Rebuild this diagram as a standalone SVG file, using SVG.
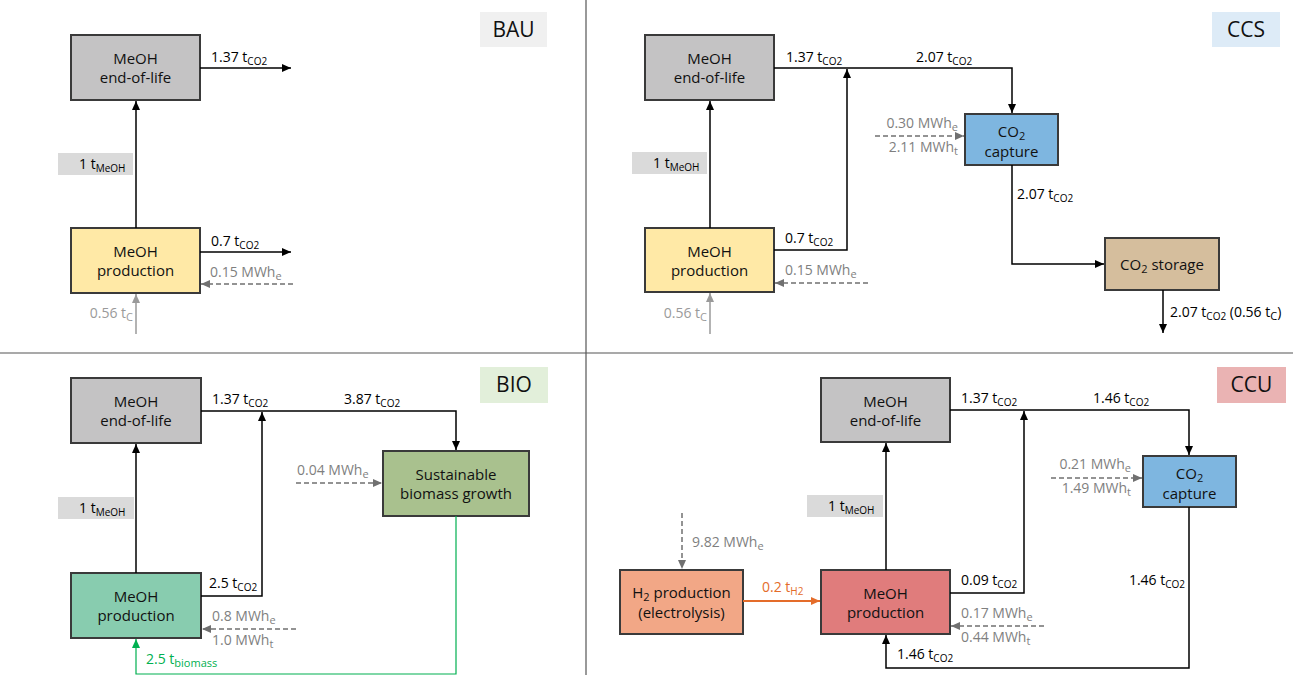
<svg xmlns="http://www.w3.org/2000/svg" width="1293" height="675" viewBox="0 0 1293 675">
<defs>
<marker id="ak" viewBox="0 0 9 8" markerWidth="9" markerHeight="8" refX="9" refY="4" orient="auto" markerUnits="userSpaceOnUse"><path d="M0,0 L9,4 L0,8 z" fill="#000"/></marker>
<marker id="ag" viewBox="0 0 9 8" markerWidth="9" markerHeight="8" refX="9" refY="4" orient="auto" markerUnits="userSpaceOnUse"><path d="M0,0 L9,4 L0,8 z" fill="#707070"/></marker>
<marker id="al" viewBox="0 0 9 8" markerWidth="9" markerHeight="8" refX="9" refY="4" orient="auto" markerUnits="userSpaceOnUse"><path d="M0,0 L9,4 L0,8 z" fill="#9a9a9a"/></marker>
<marker id="agr" viewBox="0 0 9 8" markerWidth="9" markerHeight="8" refX="9" refY="4" orient="auto" markerUnits="userSpaceOnUse"><path d="M0,0 L9,4 L0,8 z" fill="#00B050"/></marker>
<marker id="aor" viewBox="0 0 9 8" markerWidth="9" markerHeight="8" refX="9" refY="4" orient="auto" markerUnits="userSpaceOnUse"><path d="M0,0 L9,4 L0,8 z" fill="#E46C2A"/></marker>
</defs>
<style>
text{font-family:"Open Sans","Noto Sans",sans-serif;}
.box{stroke:#3a3a3a;stroke-width:2;}
.bt{font-size:15px;fill:#111;text-anchor:middle;}
.lb{font-size:14px;fill:#000;}
.gl{font-size:14px;fill:#7f7f7f;}
.ll{font-size:14px;fill:#9a9a9a;}
.grn{font-size:14px;fill:#00B050;}
.org{font-size:14px;fill:#E46C2A;}
.s{font-size:10px;}
.bs{font-size:11px;}
.ttl{font-size:21px;fill:#111;text-anchor:middle;}
.c{fill:none;stroke:#000;stroke-width:1.5;}
.d{fill:none;stroke:#707070;stroke-width:1.5;stroke-dasharray:5 3;}
.lg{fill:none;stroke:#9a9a9a;stroke-width:1.5;}
.gr{fill:none;stroke:#00B050;stroke-width:1.2;}
.or{fill:none;stroke:#E46C2A;stroke-width:1.8;}
.div{stroke:#555;stroke-width:1.2;}
</style>

<g id="dividers">
<line class="div" x1="586" y1="0" x2="586" y2="675"/>
<line class="div" x1="0" y1="353" x2="1293" y2="353"/>
</g>

<!-- BAU -->
<g id="bau-title"><rect x="480" y="12" width="67" height="35" fill="#F0F0F0"/><text class="ttl" x="513.5" y="37">BAU</text></g>
<g id="bau-eol"><rect class="box" x="71" y="35" width="129" height="65" fill="#C4C3C4"/><text class="bt" x="135.5" y="64">MeOH</text><text class="bt" x="135.5" y="83">end-of-life</text></g>
<g id="bau-prod"><rect class="box" x="71" y="228" width="129" height="65" fill="#FFE9A6"/><text class="bt" x="135.5" y="257">MeOH</text><text class="bt" x="135.5" y="276">production</text></g>
<g id="bau-meoh-label"><rect x="58" y="153" width="75" height="22" fill="#DADADA"/><text class="lb" x="79" y="169">1 t<tspan class="s" dy="3">MeOH</tspan></text></g>
<g id="bau-connectors">
<line class="c" x1="136" y1="228" x2="136" y2="101" marker-end="url(#ak)"/>
<line class="c" x1="200" y1="68" x2="291" y2="68" marker-end="url(#ak)"/>
<line class="c" x1="200" y1="252" x2="291" y2="252" marker-end="url(#ak)"/>
<line class="d" x1="293" y1="284" x2="201" y2="284" marker-end="url(#ag)"/>
<line class="lg" x1="136" y1="334" x2="136" y2="294" marker-end="url(#al)"/>
<text class="lb" x="211" y="62">1.37 t<tspan class="s" dy="3">CO2</tspan></text>
<text class="lb" x="211" y="246">0.7 t<tspan class="s" dy="3">CO2</tspan></text>
<text class="gl" x="210" y="277">0.15 MWh<tspan class="bs" dy="3">e</tspan></text>
<text class="ll" x="133" y="318" text-anchor="end">0.56 t<tspan class="bs" dy="3">C</tspan></text>
</g>

<!-- CCS -->
<g id="ccs-title"><rect x="1212" y="12" width="68" height="35" fill="#DDEBF7"/><text class="ttl" x="1246" y="37">CCS</text></g>
<g id="ccs-eol"><rect class="box" x="645" y="35" width="129" height="65" fill="#C4C3C4"/><text class="bt" x="709.5" y="64">MeOH</text><text class="bt" x="709.5" y="83">end-of-life</text></g>
<g id="ccs-prod"><rect class="box" x="645" y="228" width="129" height="64" fill="#FFE9A6"/><text class="bt" x="709.5" y="257">MeOH</text><text class="bt" x="709.5" y="276">production</text></g>
<g id="ccs-meoh-label"><rect x="632" y="152" width="75" height="22" fill="#DADADA"/><text class="lb" x="653" y="168">1 t<tspan class="s" dy="3">MeOH</tspan></text></g>
<g id="ccs-capture"><rect class="box" x="965" y="114" width="93" height="51" fill="#7EB6E0"/><text class="bt" x="1011.5" y="137">CO<tspan class="bs" dy="2.5">2</tspan></text><text class="bt" x="1011.5" y="157">capture</text></g>
<g id="ccs-storage"><rect class="box" x="1105" y="238" width="114" height="52" fill="#D5BE9D"/><text class="bt" x="1162" y="270">CO<tspan class="bs" dy="3">2</tspan><tspan dy="-3"> storage</tspan></text></g>
<g id="ccs-connectors">
<line class="c" x1="710" y1="228" x2="710" y2="101" marker-end="url(#ak)"/>
<path class="c" d="M774,68 H1012 V113" marker-end="url(#ak)"/>
<path class="c" d="M774,250 H847 V69" marker-end="url(#ak)"/>
<line class="d" x1="868" y1="283" x2="775" y2="283" marker-end="url(#ag)"/>
<line class="lg" x1="710" y1="334" x2="710" y2="293" marker-end="url(#al)"/>
<line class="d" x1="875" y1="136" x2="964" y2="136" marker-end="url(#ag)"/>
<path class="c" d="M1012,165 V264 H1104" marker-end="url(#ak)"/>
<line class="c" x1="1163" y1="290" x2="1163" y2="333" marker-end="url(#ak)"/>
<text class="lb" x="786" y="62">1.37 t<tspan class="s" dy="3">CO2</tspan></text>
<text class="lb" x="916" y="62">2.07 t<tspan class="s" dy="3">CO2</tspan></text>
<text class="lb" x="785" y="243">0.7 t<tspan class="s" dy="3">CO2</tspan></text>
<text class="gl" x="785" y="275">0.15 MWh<tspan class="bs" dy="3">e</tspan></text>
<text class="ll" x="707" y="318" text-anchor="end">0.56 t<tspan class="bs" dy="3">C</tspan></text>
<text class="gl" x="958" y="128" text-anchor="end">0.30 MWh<tspan class="bs" dy="3">e</tspan></text>
<text class="gl" x="958" y="152" text-anchor="end">2.11 MWh<tspan class="bs" dy="3">t</tspan></text>
<text class="lb" x="1017" y="199">2.07 t<tspan class="s" dy="3">CO2</tspan></text>
<text class="lb" x="1170" y="317">2.07 t<tspan class="s" dy="3">CO2</tspan><tspan dy="-3"> (0.56 t</tspan><tspan class="bs" dy="3">C</tspan><tspan dy="-3">)</tspan></text>
</g>

<!-- BIO -->
<g id="bio-title"><rect x="480" y="367" width="68" height="36" fill="#E2EFDA"/><text class="ttl" x="514" y="392">BIO</text></g>
<g id="bio-eol"><rect class="box" x="71" y="378" width="130" height="65" fill="#C4C3C4"/><text class="bt" x="136" y="407">MeOH</text><text class="bt" x="136" y="426">end-of-life</text></g>
<g id="bio-prod"><rect class="box" x="71" y="573" width="130" height="65" fill="#88CCAF"/><text class="bt" x="136" y="602">MeOH</text><text class="bt" x="136" y="621">production</text></g>
<g id="bio-meoh-label"><rect x="58" y="497" width="76" height="22" fill="#DADADA"/><text class="lb" x="79" y="513">1 t<tspan class="s" dy="3">MeOH</tspan></text></g>
<g id="bio-biomass"><rect class="box" x="383" y="451" width="146" height="65" fill="#A9C18E"/><text class="bt" x="456" y="480">Sustainable</text><text class="bt" x="456" y="499">biomass growth</text></g>
<g id="bio-connectors">
<line class="c" x1="136" y1="573" x2="136" y2="444" marker-end="url(#ak)"/>
<path class="c" d="M201,411 H456 V450" marker-end="url(#ak)"/>
<path class="c" d="M201,596 H262 V412" marker-end="url(#ak)"/>
<line class="d" x1="296" y1="483" x2="382" y2="483" marker-end="url(#ag)"/>
<line class="d" x1="296" y1="629" x2="202" y2="629" marker-end="url(#ag)"/>
<path class="gr" d="M456,516 V674 H136 V639" marker-end="url(#agr)"/>
<text class="lb" x="212" y="404">1.37 t<tspan class="s" dy="3">CO2</tspan></text>
<text class="lb" x="344" y="404">3.87 t<tspan class="s" dy="3">CO2</tspan></text>
<text class="lb" x="209" y="588">2.5 t<tspan class="s" dy="3">CO2</tspan></text>
<text class="gl" x="297" y="475">0.04 MWh<tspan class="bs" dy="3">e</tspan></text>
<text class="gl" x="212" y="621">0.8 MWh<tspan class="bs" dy="3">e</tspan></text>
<text class="gl" x="212" y="645">1.0 MWh<tspan class="bs" dy="3">t</tspan></text>
<text class="grn" x="146" y="664">2.5 t<tspan class="bs" dy="3">biomass</tspan></text>
</g>

<!-- CCU -->
<g id="ccu-title"><rect x="1217" y="367" width="69" height="36" fill="#EAB3B3"/><text class="ttl" x="1251.5" y="392">CCU</text></g>
<g id="ccu-eol"><rect class="box" x="821" y="378" width="129" height="64" fill="#C4C3C4"/><text class="bt" x="885.5" y="407">MeOH</text><text class="bt" x="885.5" y="426">end-of-life</text></g>
<g id="ccu-prod"><rect class="box" x="821" y="570" width="129" height="64" fill="#E07C7C"/><text class="bt" x="885.5" y="599">MeOH</text><text class="bt" x="885.5" y="618">production</text></g>
<g id="ccu-h2"><rect class="box" x="620" y="570" width="123" height="64" fill="#F2A786"/><text class="bt" x="681.5" y="598">H<tspan class="bs" dy="2.5">2</tspan><tspan dy="-2.5"> production</tspan></text><text class="bt" x="681.5" y="618">(electrolysis)</text></g>
<g id="ccu-meoh-label"><rect x="807" y="495" width="76" height="22" fill="#DADADA"/><text class="lb" x="828" y="511">1 t<tspan class="s" dy="3">MeOH</tspan></text></g>
<g id="ccu-capture"><rect class="box" x="1143" y="456" width="93" height="51" fill="#7EB6E0"/><text class="bt" x="1189.5" y="479">CO<tspan class="bs" dy="2.5">2</tspan></text><text class="bt" x="1189.5" y="499">capture</text></g>
<g id="ccu-connectors">
<line class="c" x1="886" y1="570" x2="886" y2="443" marker-end="url(#ak)"/>
<path class="c" d="M950,410 H1189 V455" marker-end="url(#ak)"/>
<path class="c" d="M950,593 H1024 V411" marker-end="url(#ak)"/>
<line class="d" x1="1051" y1="478" x2="1142" y2="478" marker-end="url(#ag)"/>
<path class="c" d="M1189,507 V668 H886 V635" marker-end="url(#ak)"/>
<line class="d" x1="1044" y1="626" x2="951" y2="626" marker-end="url(#ag)"/>
<line class="d" x1="682" y1="513" x2="682" y2="569" marker-end="url(#ag)"/>
<line class="or" x1="743" y1="601" x2="820" y2="601" marker-end="url(#aor)"/>
<text class="lb" x="961" y="403">1.37 t<tspan class="s" dy="3">CO2</tspan></text>
<text class="lb" x="1093" y="403">1.46 t<tspan class="s" dy="3">CO2</tspan></text>
<text class="lb" x="961" y="585">0.09 t<tspan class="s" dy="3">CO2</tspan></text>
<text class="gl" x="1131" y="469" text-anchor="end">0.21 MWh<tspan class="bs" dy="3">e</tspan></text>
<text class="gl" x="1131" y="493" text-anchor="end">1.49 MWh<tspan class="bs" dy="3">t</tspan></text>
<text class="lb" x="1185" y="585" text-anchor="end">1.46 t<tspan class="s" dy="3">CO2</tspan></text>
<text class="lb" x="897" y="659">1.46 t<tspan class="s" dy="3">CO2</tspan></text>
<text class="gl" x="961" y="618">0.17 MWh<tspan class="bs" dy="3">e</tspan></text>
<text class="gl" x="961" y="642">0.44 MWh<tspan class="bs" dy="3">t</tspan></text>
<text class="gl" x="692" y="547">9.82 MWh<tspan class="bs" dy="3">e</tspan></text>
<text class="org" x="762" y="592">0.2 t<tspan class="s" dy="3">H2</tspan></text>
</g>
</svg>
